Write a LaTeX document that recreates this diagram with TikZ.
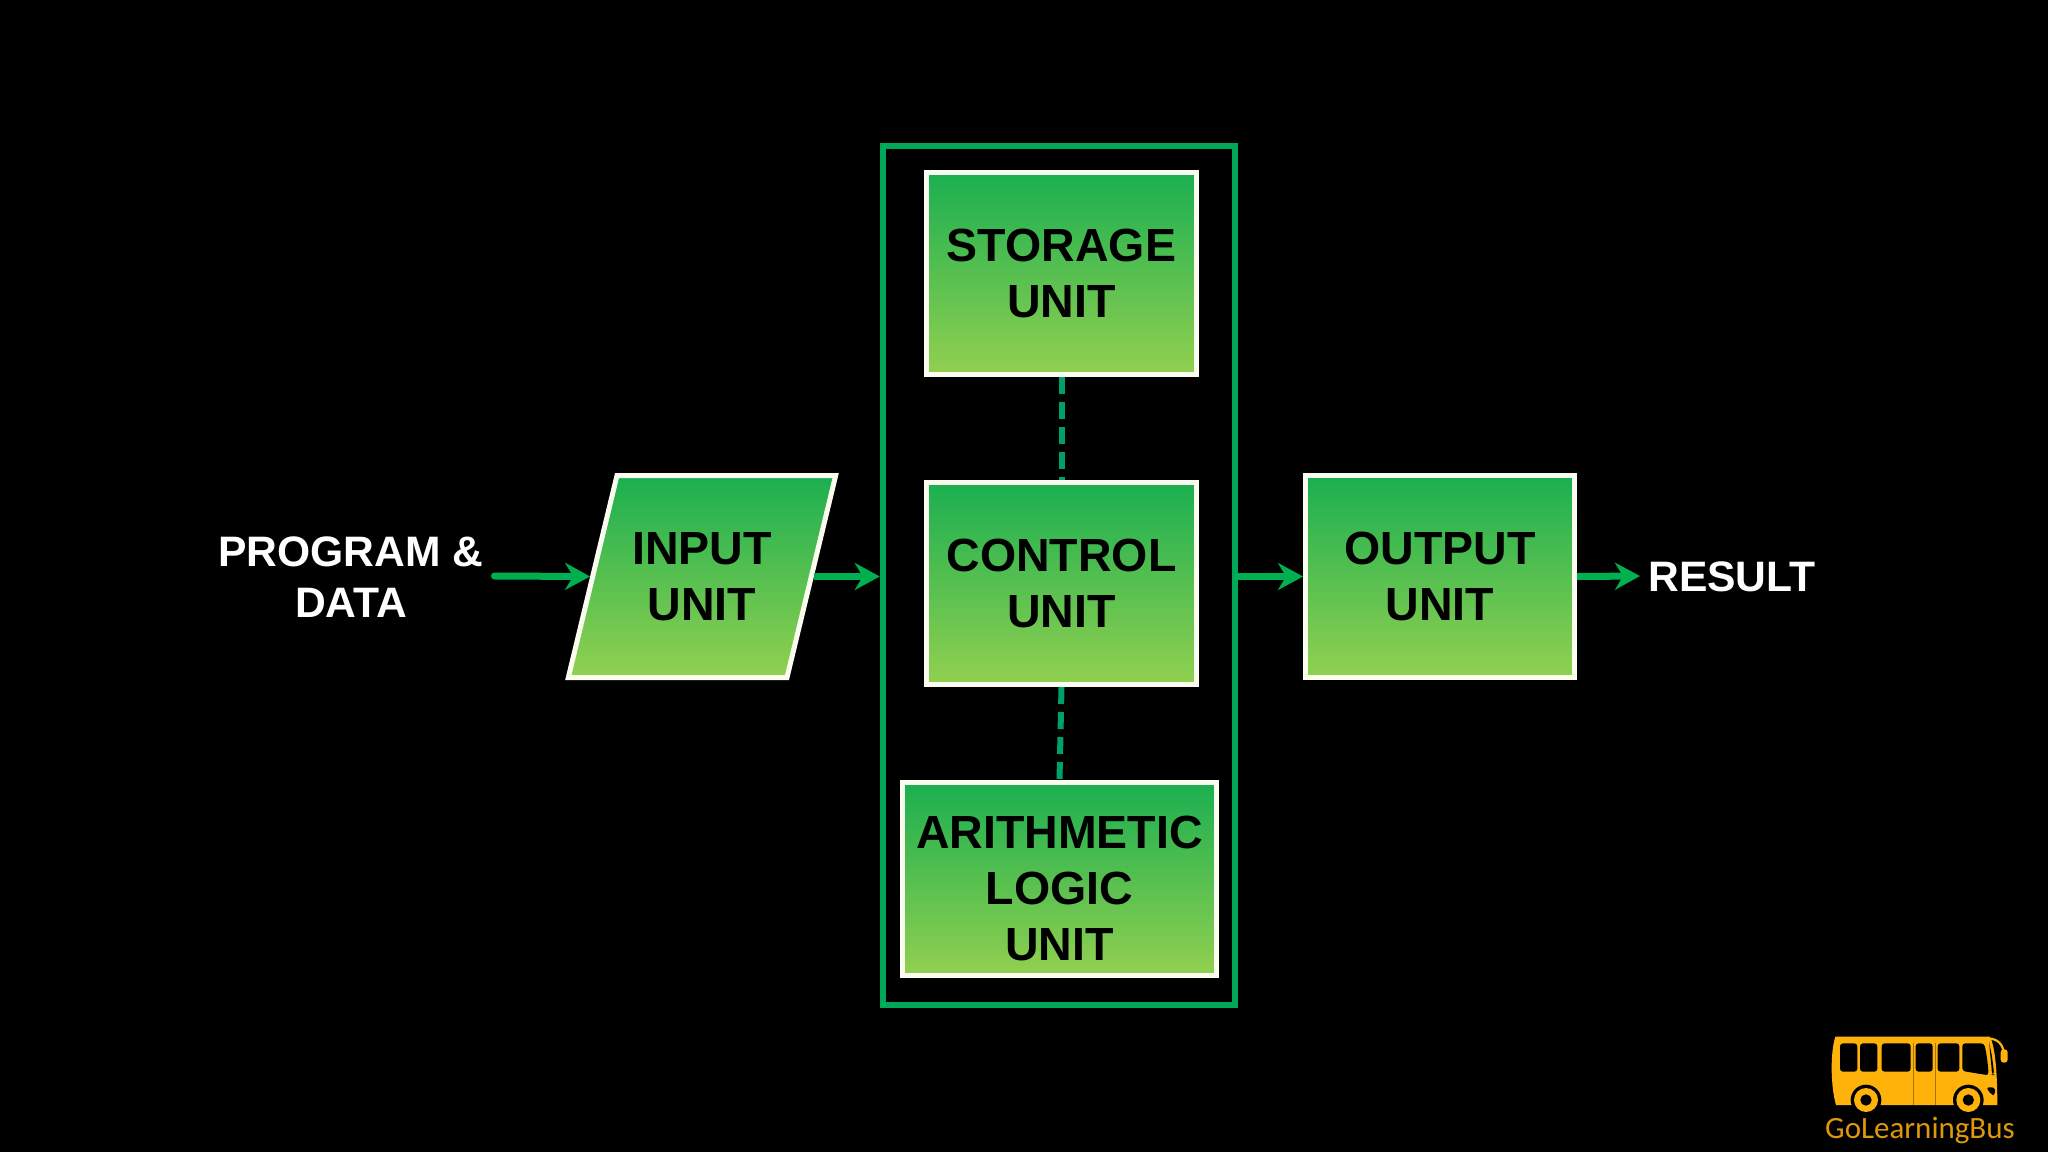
\documentclass[tikz,border=0pt]{standalone}
\usepackage{fontspec}
\setmainfont{Liberation Sans}
\newfontfamily\logofont{Carlito}
\usetikzlibrary{arrows.meta,shapes.geometric}
\definecolor{framegreen}{RGB}{0, 168, 90}
\definecolor{arrowgreen}{RGB}{0, 176, 80}
\definecolor{dashgreen}{RGB}{0, 160, 105}
\definecolor{boxtop}{RGB}{27, 175, 80}
\definecolor{boxbottom}{RGB}{146, 208, 80}
\definecolor{boxedge}{RGB}{250, 252, 240}
\definecolor{busgold}{RGB}{255, 178, 10}
\definecolor{busline}{RGB}{170, 115, 0}
\definecolor{logogold}{RGB}{222, 152, 10}
\tikzset{
  unitbox/.style={draw=boxedge, line width=5pt, top color=boxtop, bottom color=boxbottom,
    inner sep=0pt, align=center, text=black, font=\fontsize{46.5}{56}\selectfont\bfseries},
  sidelabel/.style={inner sep=0pt, align=center, text=white, font=\fontsize{42.6}{51}\selectfont\bfseries},
  flow/.style={arrowgreen, line width=7pt,
    -{Stealth[length=25pt, width=27pt, inset=8pt]}},
  link/.style={dashgreen, line width=6pt, dash pattern=on 17pt off 8pt}
}

\begin{document}
\begin{tikzpicture}[x=1pt, y=-1pt]
    \fill[black] (0,0) rectangle (2048,1152);

    \node[draw=framegreen, line width=6pt, minimum width=352.5pt, minimum height=859pt] (cpu) at (1059,575.5) {};
    \node[unitbox, minimum width=270pt, minimum height=202pt] (storage) at (1061.5,273.5) {STORAGE\\UNIT};
    \node[unitbox, minimum width=270pt, minimum height=202pt] (control) at (1061.5,583.5) {CONTROL\\UNIT};
    \node[unitbox, minimum width=314pt, minimum height=193pt] (alu) at (1059.5,879) {\rule{0pt}{51pt}ARITHMETIC\\LOGIC\\UNIT};
    \node[unitbox, trapezium, trapezium left angle=65.7, trapezium right angle=114.3, trapezium stretches=true,
      minimum width=268pt, minimum height=202pt] (input) at (702,576.5) {INPUT\\UNIT};
    \node[unitbox, minimum width=269pt, minimum height=202pt] (output) at (1440,576.5) {OUTPUT\\UNIT};

    \node[sidelabel] (program) at (351,577) {PROGRAM \&\\DATA};
    \node[sidelabel] (result) at (1732,577) {RESULT};

    \coordinate (flowstart) at (494.5,576);
    \coordinate (flowend) at (1640,576);
    \draw[flow, line cap=round] (flowstart) -- (input.west);
    \draw[flow] (input.east) -- (input.east -| cpu.west);
    \draw[flow] (cpu.east |- output.west) -- (output.west);
    \draw[flow] (output.east) -- (flowend);
    \draw[link] (storage.south) -- (control.north);
    \draw[link] (control.south) -- (alu.north);

    \begin{scope}[shift={(1780,1010)}, x=0.3333pt, y=-0.3333pt]
      \fill[busgold] (166,80) -- (630,80) .. controls (645,110) and (652,180) .. (652,285)
        -- (168,285) .. controls (152,230) and (150,130) .. cycle;
      \draw[busgold, line width=2.2pt, line cap=round] (632,86) .. controls (660,90) and (671,110) .. (672,135);
      \fill[busgold, rounded corners=3pt] (662,118) rectangle (683,158);
      \begin{scope}[black, rounded corners=3pt]
        \fill (180,100) rectangle (232,185);
        \fill (240,100) rectangle (292,185);
        \fill (305,100) rectangle (392,185);
        \fill (407,100) rectangle (458,185);
        \fill (473,100) rectangle (538,185);
        \fill (547,100) -- (612,100) .. controls (620,130) and (624,165) .. (626,196) -- (547,183) -- cycle;
        \fill (628,102) .. controls (635,130) and (640,165) .. (642,195) -- (636,195) .. controls (634,160) and (630,130) .. cycle;
        \fill (618,232) -- (645,232) -- (645,256) -- (634,254) -- cycle;
      \end{scope}
      \draw[busline, line width=1pt] (400,100) -- (400,285) (467,100) -- (467,285);
      \foreach \wheelx in {258,565} {
        \fill[black] (\wheelx,270) circle[radius=46];
        \fill[busgold] (\wheelx,270) circle[radius=36];
        \fill[black] (\wheelx,270) circle[radius=17];
      }
      \node[anchor=base, inner sep=0pt, text=logogold, font=\logofont\fontsize{31}{31}\selectfont] (logo) at (420,385) {GoLearningBus};
    \end{scope}
\end{tikzpicture}
\end{document}
